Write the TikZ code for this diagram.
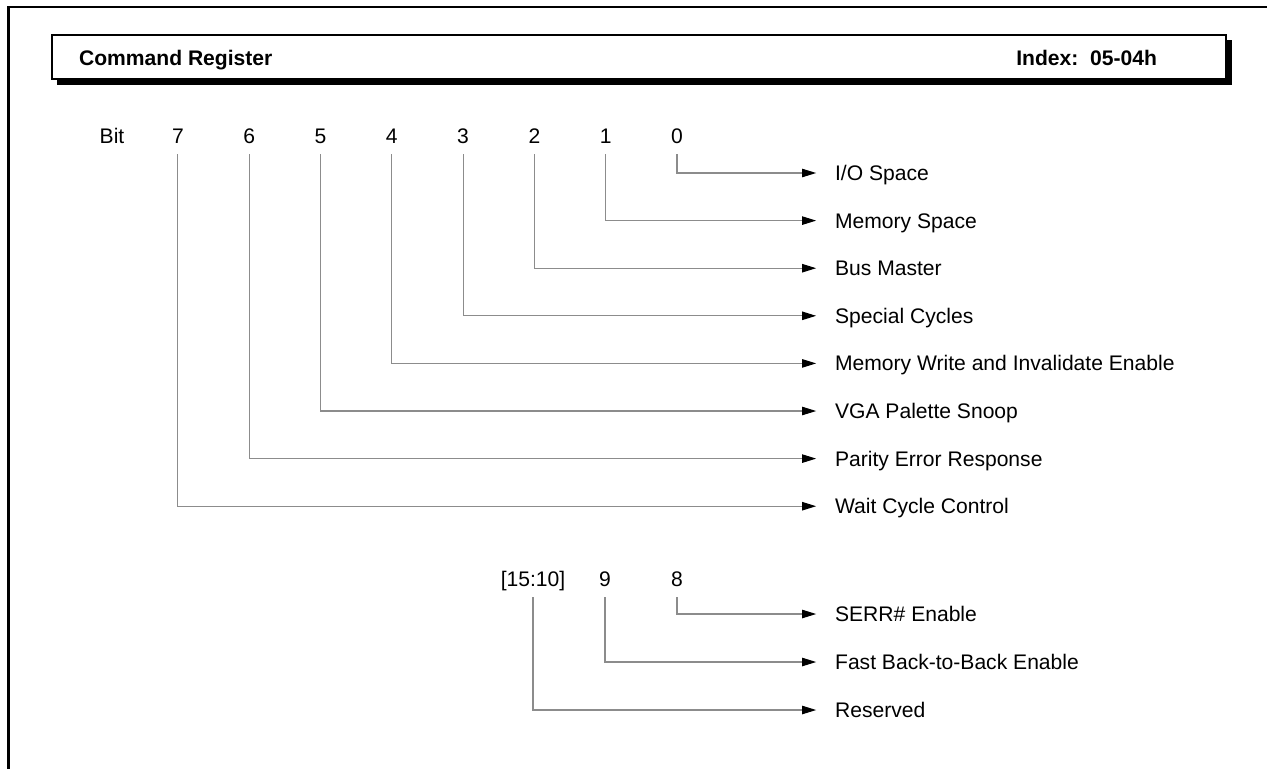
\documentclass[tikz,border=0pt]{standalone}
\usepackage{fontspec}
\setmainfont{Liberation Sans}
\usetikzlibrary{positioning, arrows.meta}

\begin{document}
\begin{tikzpicture}[
  x=0.02cm, y=-0.02cm,
  every node/.style={font=\fontsize{12}{14}\selectfont, inner sep=1pt},
  frame/.style  = {line width=1.7pt, line cap=rect},
  shade/.style  = {fill=black},
  banner/.style = {draw=black, line width=1.1pt, fill=white},
  hdr/.style    = {font=\fontsize{12}{14}\selectfont\bfseries, text height=8.6pt, text depth=0pt},
  bitno/.style  = {anchor=base, text depth=0pt},
  field/.style  = {anchor=west, text height=8.6pt, text depth=0pt},
  conn/.style   = {-{Triangle[length=8pt, width=4.8pt, color=black]}, black!45, line width=0.6pt, shorten <=5pt, shorten >=9.6pt},
]
  \useasboundingbox (0,0) rectangle (1267,768);
  \draw[frame] (8.5,780) -- (8.5,7) -- (1280,7);
  % header bar
  \fill[shade] (57,40) rectangle (1232,85);
  \draw[banner] (52,35) rectangle (1226,79);
  \node[hdr, anchor=west] (title) at (77,57.5) {Command Register};
  \node[hdr, anchor=east] (index) at (1159,57.5) {Index:\ \ 05-04h};
  % bits 7..0
  \node[bitno] (bit) at (112,143.5) {Bit};
  \foreach \b/\t in {0/{I/O Space}, 1/{Memory Space}, 2/{Bus Master}, 3/{Special Cycles}, 4/{Memory Write and Invalidate Enable}, 5/{VGA Palette Snoop}, 6/{Parity Error Response}, 7/{Wait Cycle Control}}{
    \pgfmathsetmacro\xx{677-71.3*\b}
    \pgfmathsetmacro\yy{173+47.6*\b}
    \node[bitno] (b\b) at (\xx,143.5) {\b};
    \node[field] (f\b) at (833,\yy) {\t};
    \draw[conn] (b\b.south) |- (f\b.west);
  }
  % bits 15..8
  \foreach \b/\xx/\yy/\n/\t in {8/677/614/8/{SERR\# Enable}, 9/605/662/9/{Fast Back-to-Back Enable}, 15/533/710/{[15:10]}/{Reserved}}{
    \node[bitno] (b\b) at (\xx,586.5) {\n};
    \node[field] (f\b) at (833,\yy) {\t};
    \draw[conn] (b\b.south) |- (f\b.west);
  }
\end{tikzpicture}
\end{document}
